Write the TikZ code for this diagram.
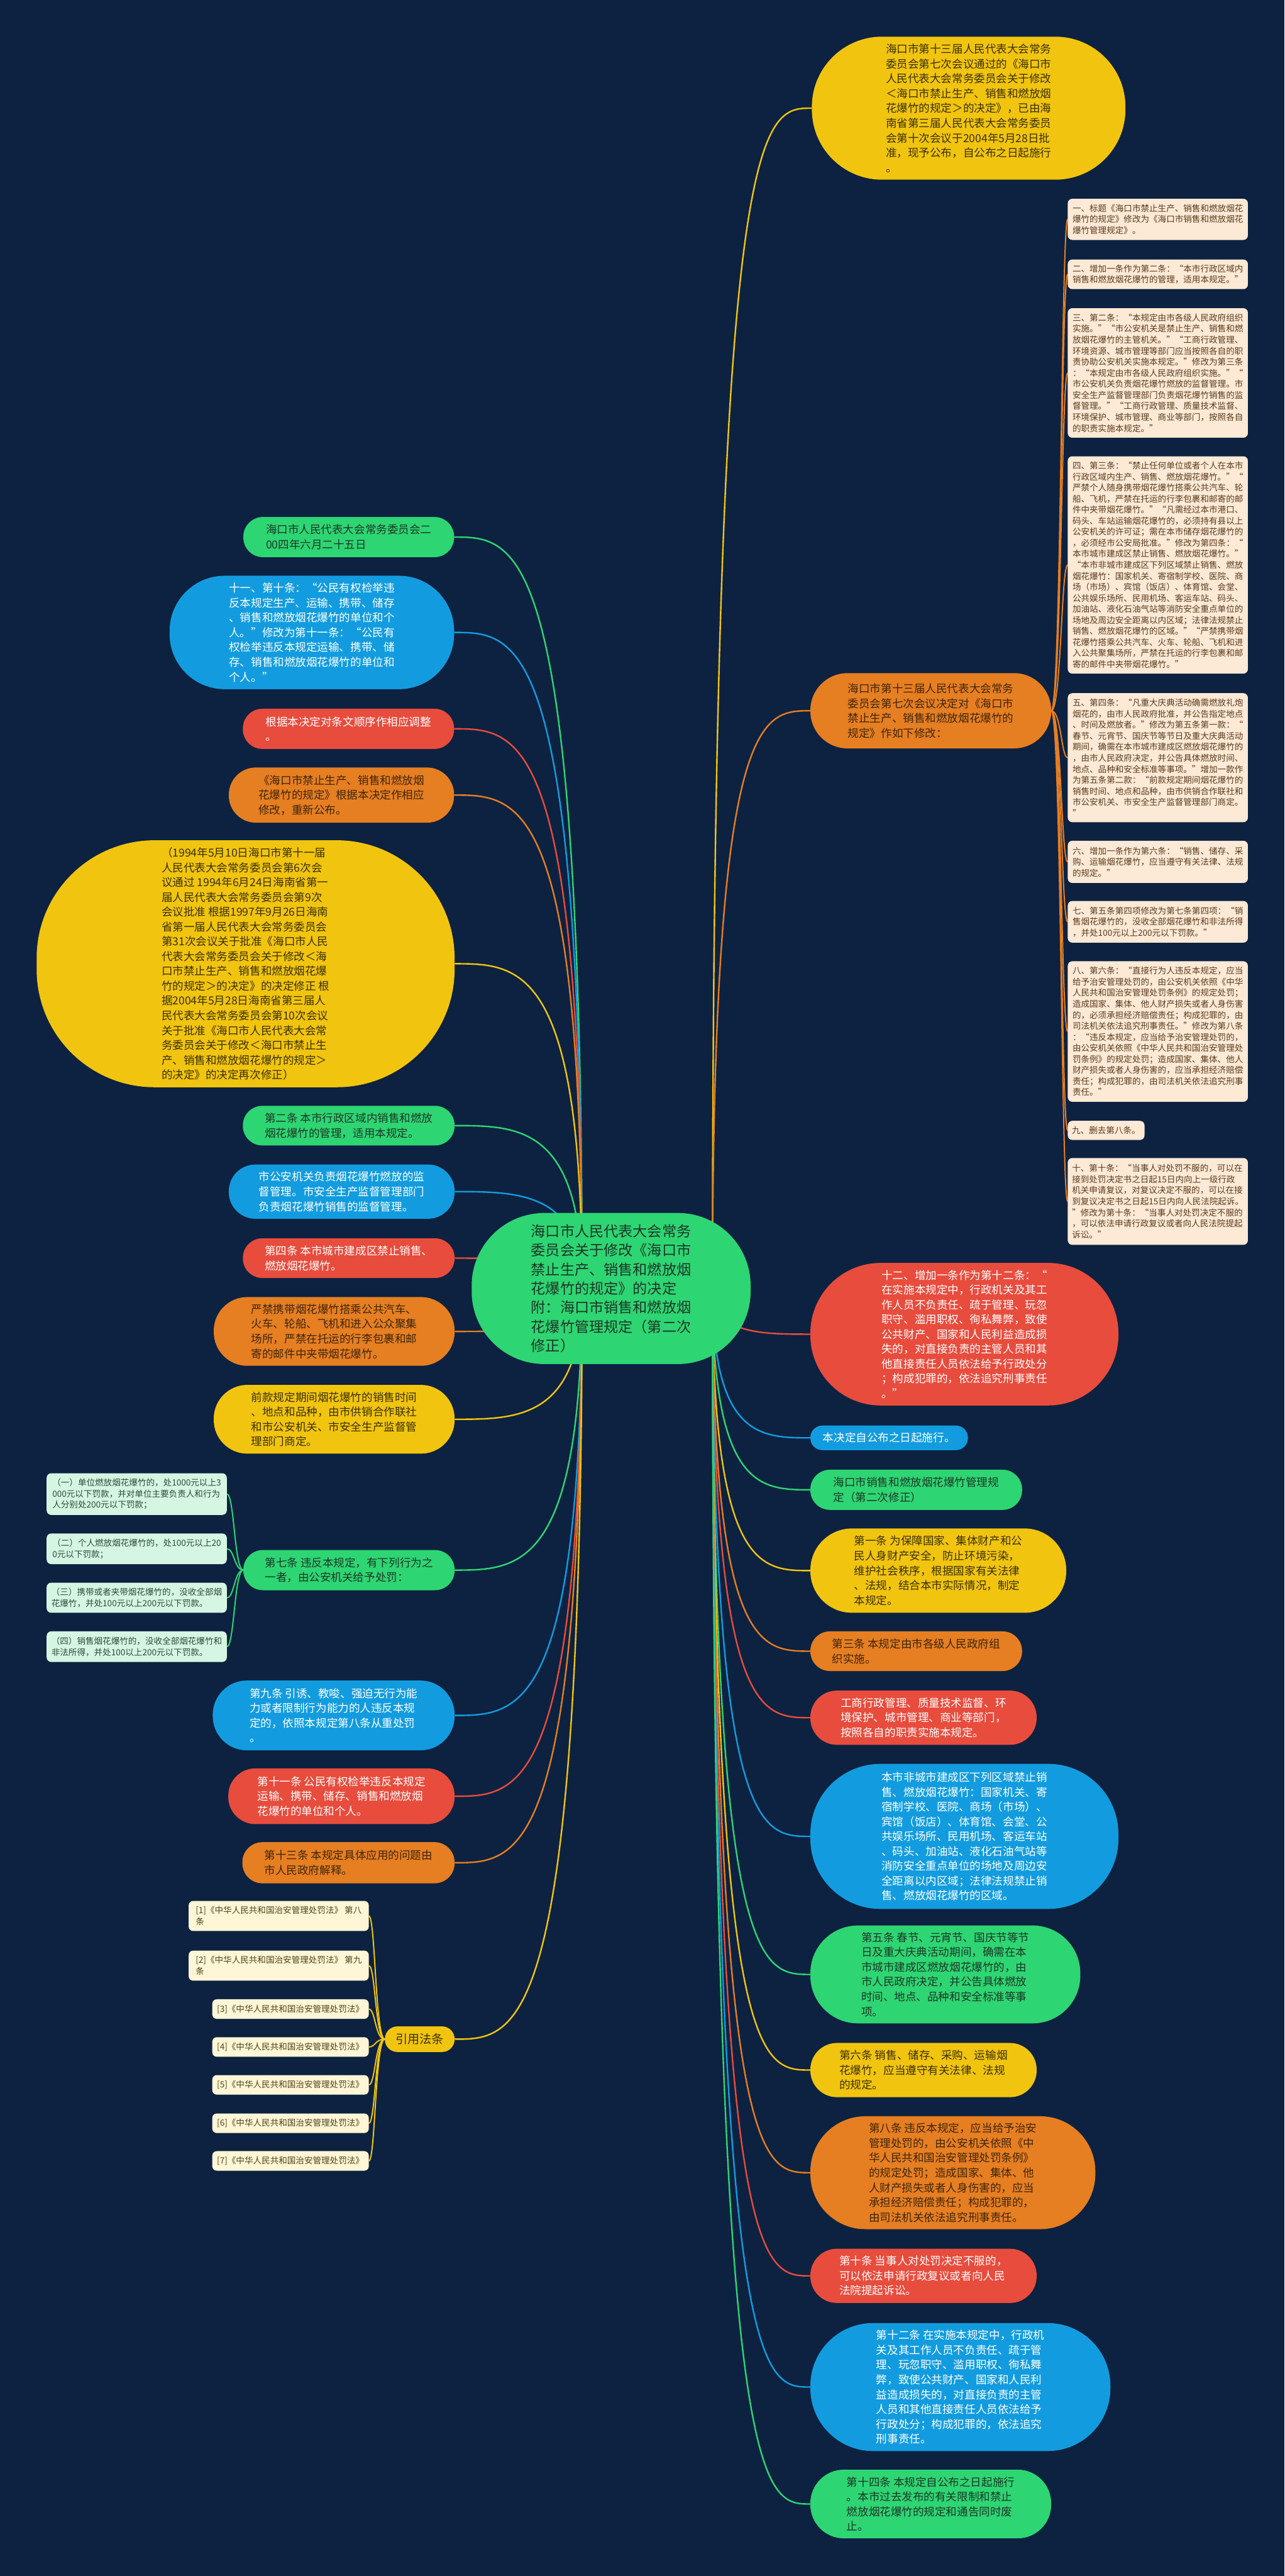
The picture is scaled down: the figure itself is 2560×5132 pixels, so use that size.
\documentclass[tikz,border=0pt]{standalone}
\usepackage{fontspec}
\setmainfont{Noto Sans CJK SC}
\usetikzlibrary{backgrounds}
\definecolor{bgc}{HTML}{0D2240}
\definecolor{cG}{HTML}{2ED573}
\definecolor{cB}{HTML}{129CDF}
\definecolor{cR}{HTML}{E84C3D}
\definecolor{cO}{HTML}{E67E22}
\definecolor{cY}{HTML}{F1C40F}
\definecolor{cCream}{HTML}{FCE9D6}
\definecolor{cLG}{HTML}{D6F6E4}
\definecolor{cLY}{HTML}{FEF6D6}
\definecolor{tG}{HTML}{1C3626}
\definecolor{tO}{HTML}{3E2608}
\definecolor{tY}{HTML}{3A3000}
\definecolor{tBr}{HTML}{5A3B1C}
\definecolor{tLG}{HTML}{2C4A38}
\definecolor{tLY}{HTML}{4F4218}
\tikzset{
  nd/.style={inner sep=0pt, align=left, font=\fontsize{22}{29.5}\selectfont},
  gN/.style={nd, fill=cG, text=tG},
  bN/.style={nd, fill=cB, text=white},
  rN/.style={nd, fill=cR, text=white},
  oN/.style={nd, fill=cO, text=tO},
  yN/.style={nd, fill=cY, text=tY},
  sm/.style={inner sep=0pt, align=left, rounded corners=9pt, font=\fontsize{17}{22}\selectfont},
  crN/.style={sm, fill=cCream, text=tBr},
  lgN/.style={sm, fill=cLG, text=tLG},
  lyN/.style={sm, fill=cLY, text=tLY},
  lG/.style={draw=cG, line width=3pt},
  lB/.style={draw=cB, line width=3pt},
  lR/.style={draw=cR, line width=3pt},
  lO/.style={draw=cO, line width=3pt},
  lY/.style={draw=cY, line width=3pt},
  sO/.style={draw=cO, line width=2.5pt},
  sG/.style={draw=cG, line width=2.5pt},
  sY/.style={draw=cY, line width=2.5pt}
}
\begin{document}
\begin{tikzpicture}[x=1pt,y=-1pt]
\useasboundingbox (0,0) rectangle (2560,5132);
% centre
\node[gN, font=\fontsize{29}{38}\selectfont, minimum width=556pt, minimum height=301pt, rounded corners=145pt] (C) at (1218,2567) {海口市人民代表大会常务\\委员会关于修改《海口市\\禁止生产、销售和燃放烟\\花爆竹的规定》的决定\\附：海口市销售和燃放烟\\花爆竹管理规定（第二次\\修正）};
\coordinate (CR) at (1420,2567);
\coordinate (CL) at (1160,2567);
% right side
\node[yN, minimum width=625pt, minimum height=285pt, rounded corners=140pt] (R1) at (1930.5,215.5) {海口市第十三届人民代表大会常务\\委员会第七次会议通过的《海口市\\人民代表大会常务委员会关于修改\\＜海口市禁止生产、销售和燃放烟\\花爆竹的规定＞的决定》，已由海\\南省第三届人民代表大会常务委员\\会第十次会议于2004年5月28日批\\准，现予公布，自公布之日起施行\\。};
\node[oN, minimum width=480pt, minimum height=150pt, rounded corners=74pt] (R2) at (1855,1416) {海口市第十三届人民代表大会常务\\委员会第七次会议决定对《海口市\\禁止生产、销售和燃放烟花爆竹的\\规定》作如下修改：};
\node[rN, minimum width=614pt, minimum height=284pt, rounded corners=140pt] (R3) at (1922,2658) {十二、增加一条作为第十二条：“\\在实施本规定中，行政机关及其工\\作人员不负责任、疏于管理、玩忽\\职守、滥用职权、徇私舞弊，致使\\公共财产、国家和人民利益造成损\\失的，对直接负责的主管人员和其\\他直接责任人员依法给予行政处分\\；构成犯罪的，依法追究刑事责任\\。”};
\node[bN, minimum width=314pt, minimum height=49pt, rounded corners=24pt] (R4) at (1772,2864.5) {本决定自公布之日起施行。};
\node[gN, minimum width=422pt, minimum height=80pt, rounded corners=39pt] (R5) at (1826,2968) {海口市销售和燃放烟花爆竹管理规\\定（第二次修正）};
\node[yN, minimum width=510pt, minimum height=168pt, rounded corners=83pt] (R6) at (1870,3129) {第一条 为保障国家、集体财产和公\\民人身财产安全，防止环境污染，\\维护社会秩序，根据国家有关法律\\、法规，结合本市实际情况，制定\\本规定。};
\node[oN, minimum width=422pt, minimum height=79pt, rounded corners=39pt] (R7) at (1826,3289.5) {第三条 本规定由市各级人民政府组\\织实施。};
\node[rN, minimum width=451pt, minimum height=108pt, rounded corners=53pt] (R8) at (1840.5,3422) {工商行政管理、质量技术监督、环\\境保护、城市管理、商业等部门，\\按照各自的职责实施本规定。};
\node[bN, minimum width=614pt, minimum height=289pt, rounded corners=140pt] (R9) at (1922,3658.5) {本市非城市建成区下列区域禁止销\\售、燃放烟花爆竹：国家机关、寄\\宿制学校、医院、商场（市场）、\\宾馆（饭店）、体育馆、会堂、公\\共娱乐场所、民用机场、客运车站\\、码头、加油站、液化石油气站等\\消防安全重点单位的场地及周边安\\全距离以内区域；法律法规禁止销\\售、燃放烟花爆竹的区域。};
\node[gN, minimum width=538pt, minimum height=195pt, rounded corners=95pt] (R10) at (1884,3933.5) {第五条 春节、元宵节、国庆节等节\\日及重大庆典活动期间，确需在本\\市城市建成区燃放烟花爆竹的，由\\市人民政府决定，并公告具体燃放\\时间、地点、品种和安全标准等事\\项。};
\node[yN, minimum width=451pt, minimum height=108pt, rounded corners=53pt] (R11) at (1840.5,4124) {第六条 销售、储存、采购、运输烟\\花爆竹，应当遵守有关法律、法规\\的规定。};
\node[oN, minimum width=568pt, minimum height=225pt, rounded corners=110pt] (R12) at (1899,4328.5) {第八条 违反本规定，应当给予治安\\管理处罚的，由公安机关依照《中\\华人民共和国治安管理处罚条例》\\的规定处罚；造成国家、集体、他\\人财产损失或者人身伤害的，应当\\承担经济赔偿责任；构成犯罪的，\\由司法机关依法追究刑事责任。};
\node[rN, minimum width=451pt, minimum height=108pt, rounded corners=53pt] (R13) at (1840.5,4534) {第十条 当事人对处罚决定不服的，\\可以依法申请行政复议或者向人民\\法院提起诉讼。};
\node[bN, minimum width=598pt, minimum height=255pt, rounded corners=125pt] (R14) at (1914,4755.5) {第十二条 在实施本规定中，行政机\\关及其工作人员不负责任、疏于管\\理、玩忽职守、滥用职权、徇私舞\\弊，致使公共财产、国家和人民利\\益造成损失的，对直接负责的主管\\人员和其他直接责任人员依法给予\\行政处分；构成犯罪的，依法追究\\刑事责任。};
\node[gN, minimum width=480pt, minimum height=137pt, rounded corners=67pt] (R15) at (1855,4988.5) {第十四条 本规定自公布之日起施行\\。本市过去发布的有关限制和禁止\\燃放烟花爆竹的规定和通告同时废\\止。};
% cream column
\node[crN, minimum width=359pt, minimum height=82pt] (K1) at (2307.5,437) {一、标题《海口市禁止生产、销售和燃放烟花\\爆竹的规定》修改为《海口市销售和燃放烟花\\爆竹管理规定》。};
\node[crN, minimum width=359pt, minimum height=59pt] (K2) at (2307.5,546.5) {二、增加一条作为第二条：“本市行政区域内\\销售和燃放烟花爆竹的管理，适用本规定。”};
\node[crN, minimum width=359pt, minimum height=258pt] (K3) at (2307.5,743) {三、第二条：“本规定由市各级人民政府组织\\实施。”“市公安机关是禁止生产、销售和燃\\放烟花爆竹的主管机关。”“工商行政管理、\\环境资源、城市管理等部门应当按照各自的职\\责协助公安机关实施本规定。”修改为第三条\\：“本规定由市各级人民政府组织实施。”“\\市公安机关负责烟花爆竹燃放的监督管理。市\\安全生产监督管理部门负责烟花爆竹销售的监\\督管理。”“工商行政管理、质量技术监督、\\环境保护、城市管理、商业等部门，按照各自\\的职责实施本规定。”};
\node[crN, minimum width=359pt, minimum height=433pt] (K4) at (2307.5,1125.5) {四、第三条：“禁止任何单位或者个人在本市\\行政区域内生产、销售、燃放烟花爆竹。”“\\严禁个人随身携带烟花爆竹搭乘公共汽车、轮\\船、飞机，严禁在托运的行李包裹和邮寄的邮\\件中夹带烟花爆竹。”“凡需经过本市港口、\\码头、车站运输烟花爆竹的，必须持有县以上\\公安机关的许可证；需在本市储存烟花爆竹的\\，必须经市公安局批准。”修改为第四条：“\\本市城市建成区禁止销售、燃放烟花爆竹。”\\“本市非城市建成区下列区域禁止销售、燃放\\烟花爆竹：国家机关、寄宿制学校、医院、商\\场（市场）、宾馆（饭店）、体育馆、会堂、\\公共娱乐场所、民用机场、客运车站、码头、\\加油站、液化石油气站等消防安全重点单位的\\场地及周边安全距离以内区域；法律法规禁止\\销售、燃放烟花爆竹的区域。”“严禁携带烟\\花爆竹搭乘公共汽车、火车、轮船、飞机和进\\入公共聚集场所，严禁在托运的行李包裹和邮\\寄的邮件中夹带烟花爆竹。”};
\node[crN, minimum width=359pt, minimum height=257pt] (K5) at (2307.5,1509.5) {五、第四条：“凡重大庆典活动确需燃放礼炮\\烟花的，由市人民政府批准，并公告指定地点\\、时间及燃放者。”修改为第五条第一款：“\\春节、元宵节、国庆节等节日及重大庆典活动\\期间，确需在本市城市建成区燃放烟花爆竹的\\，由市人民政府决定，并公告具体燃放时间、\\地点、品种和安全标准等事项。”增加一款作\\为第五条第二款：“前款规定期间烟花爆竹的\\销售时间、地点和品种，由市供销合作联社和\\市公安机关、市安全生产监督管理部门商定。\\”};
\node[crN, minimum width=359pt, minimum height=84pt] (K6) at (2307.5,1717) {六、增加一条作为第六条：“销售、储存、采\\购、运输烟花爆竹，应当遵守有关法律、法规\\的规定。”};
\node[crN, minimum width=359pt, minimum height=83pt] (K7) at (2307.5,1836.5) {七、第五条第四项修改为第七条第四项：“销\\售烟花爆竹的，没收全部烟花爆竹和非法所得\\，并处100元以上200元以下罚款。”};
\node[crN, minimum width=359pt, minimum height=280pt] (K8) at (2307.5,2055) {八、第六条：“直接行为人违反本规定，应当\\给予治安管理处罚的，由公安机关依照《中华\\人民共和国治安管理处罚条例》的规定处罚；\\造成国家、集体、他人财产损失或者人身伤害\\的，必须承担经济赔偿责任；构成犯罪的，由\\司法机关依法追究刑事责任。”修改为第八条\\：“违反本规定，应当给予治安管理处罚的，\\由公安机关依照《中华人民共和国治安管理处\\罚条例》的规定处罚；造成国家、集体、他人\\财产损失或者人身伤害的，应当承担经济赔偿\\责任；构成犯罪的，由司法机关依法追究刑事\\责任。”};
\node[crN, minimum width=153pt, minimum height=38pt] (K9) at (2204.5,2252) {九、删去第八条。};
\node[crN, minimum width=359pt, minimum height=173pt] (K10) at (2307.5,2393.5) {十、第十条：“当事人对处罚不服的，可以在\\接到处罚决定书之日起15日内向上一级行政\\机关申请复议，对复议决定不服的，可以在接\\到复议决定书之日起15日内向人民法院起诉。\\”修改为第十条：“当事人对处罚决定不服的\\，可以依法申请行政复议或者向人民法院提起\\诉讼。”};
% left side
\node[gN, minimum width=420pt, minimum height=80pt, rounded corners=39pt] (L1) at (695,1070) {海口市人民代表大会常务委员会二\\00四年六月二十五日};
\node[bN, minimum width=567pt, minimum height=226pt, rounded corners=110pt] (L2) at (621.5,1260) {十一、第十条：“公民有权检举违\\反本规定生产、运输、携带、储存\\、销售和燃放烟花爆竹的单位和个\\人。”修改为第十一条：“公民有\\权检举违反本规定运输、携带、储\\存、销售和燃放烟花爆竹的单位和\\个人。”};
\node[rN, minimum width=421pt, minimum height=80pt, rounded corners=39pt] (L3) at (694.5,1452) {根据本决定对条文顺序作相应调整\\。};
\node[oN, minimum width=449pt, minimum height=110pt, rounded corners=54pt] (L4) at (680.5,1584) {《海口市禁止生产、销售和燃放烟\\花爆竹的规定》根据本决定作相应\\修改，重新公布。};
\node[yN, minimum width=833pt, minimum height=492pt, rounded corners=235pt] (L5) at (489.5,1920) {（1994年5月10日海口市第十一届\\人民代表大会常务委员会第6次会\\议通过 1994年6月24日海南省第一\\届人民代表大会常务委员会第9次\\会议批准 根据1997年9月26日海南\\省第一届人民代表大会常务委员会\\第31次会议关于批准《海口市人民\\代表大会常务委员会关于修改＜海\\口市禁止生产、销售和燃放烟花爆\\竹的规定＞的决定》的决定修正 根\\据2004年5月28日海南省第三届人\\民代表大会常务委员会第10次会议\\关于批准《海口市人民代表大会常\\务委员会关于修改＜海口市禁止生\\产、销售和燃放烟花爆竹的规定＞\\的决定》的决定再次修正）};
\node[gN, minimum width=422pt, minimum height=79pt, rounded corners=39pt] (L6) at (695,2242.5) {第二条 本市行政区域内销售和燃放\\烟花爆竹的管理，适用本规定。};
\node[bN, minimum width=450pt, minimum height=108pt, rounded corners=53pt] (L7) at (681,2374) {市公安机关负责烟花爆竹燃放的监\\督管理。市安全生产监督管理部门\\负责烟花爆竹销售的监督管理。};
\node[rN, minimum width=422pt, minimum height=79pt, rounded corners=39pt] (L8) at (695,2506.5) {第四条 本市城市建成区禁止销售、\\燃放烟花爆竹。};
\node[oN, minimum width=480pt, minimum height=137pt, rounded corners=67pt] (L9) at (666,2652.5) {严禁携带烟花爆竹搭乘公共汽车、\\火车、轮船、飞机和进入公众聚集\\场所，严禁在托运的行李包裹和邮\\寄的邮件中夹带烟花爆竹。};
\node[yN, minimum width=480pt, minimum height=137pt, rounded corners=67pt] (L10) at (666,2827.5) {前款规定期间烟花爆竹的销售时间\\、地点和品种，由市供销合作联社\\和市公安机关、市安全生产监督管\\理部门商定。};
\node[gN, minimum width=421pt, minimum height=80pt, rounded corners=39pt] (L11) at (695.5,3128) {第七条 违反本规定，有下列行为之\\一者，由公安机关给予处罚：};
\node[bN, minimum width=482pt, minimum height=139pt, rounded corners=68pt] (L12) at (665,3417.5) {第九条 引诱、教唆、强迫无行为能\\力或者限制行为能力的人违反本规\\定的，依照本规定第八条从重处罚\\。};
\node[rN, minimum width=451pt, minimum height=111pt, rounded corners=54pt] (L13) at (680.5,3578.5) {第十一条 公民有权检举违反本规定\\运输、携带、储存、销售和燃放烟\\花爆竹的单位和个人。};
\node[oN, minimum width=423pt, minimum height=82pt, rounded corners=40pt] (L14) at (694.5,3711) {第十三条 本规定具体应用的问题由\\市人民政府解释。};
\node[yN, font=\fontsize{24}{30}\selectfont, minimum width=139pt, minimum height=51pt, rounded corners=25pt] (L15) at (836.5,4062.5) {引用法条};
% light green
\node[lgN, minimum width=359pt, minimum height=83pt] (G1) at (272.5,2976.5) {（一）单位燃放烟花爆竹的，处1000元以上3\\000元以下罚款，并对单位主要负责人和行为\\人分别处200元以下罚款；};
\node[lgN, minimum width=359pt, minimum height=61pt] (G2) at (272.5,3085.5) {（二）个人燃放烟花爆竹的，处100元以上20\\0元以下罚款；};
\node[lgN, minimum width=359pt, minimum height=60pt] (G3) at (272.5,3183) {（三）携带或者夹带烟花爆竹的，没收全部烟\\花爆竹，并处100元以上200元以下罚款。};
\node[lgN, minimum width=359pt, minimum height=61pt] (G4) at (272.5,3280.5) {（四）销售烟花爆竹的，没收全部烟花爆竹和\\非法所得，并处100以上200元以下罚款。};
% light yellow
\node[lyN, minimum width=359pt, minimum height=60pt] (Y1) at (555.5,3817) {[1]《中华人民共和国治安管理处罚法》 第八\\条};
\node[lyN, minimum width=359pt, minimum height=60pt] (Y2) at (555.5,3916) {[2]《中华人民共和国治安管理处罚法》 第九\\条};
\node[lyN, minimum width=312pt, minimum height=39pt] (Y3) at (579,4002.5) {[3]《中华人民共和国治安管理处罚法》};
\node[lyN, minimum width=312pt, minimum height=39pt] (Y4) at (579,4078) {[4]《中华人民共和国治安管理处罚法》};
\node[lyN, minimum width=312pt, minimum height=39pt] (Y5) at (579,4153.5) {[5]《中华人民共和国治安管理处罚法》};
\node[lyN, minimum width=312pt, minimum height=39pt] (Y6) at (579,4230) {[6]《中华人民共和国治安管理处罚法》};
\node[lyN, minimum width=312pt, minimum height=39pt] (Y7) at (579,4305) {[7]《中华人民共和国治安管理处罚法》};
\begin{scope}[on background layer]
\fill[bgc] (0,0) rectangle (2560,5132);
% right connectors
\draw[lY] (CR) .. controls (1420,215.5) and (1517,215.5) .. (R1.west);
\draw[lO] (CR) .. controls (1420,1416) and (1517,1416) .. (R2.west);
\draw[lR] (CR) .. controls (1420,2658) and (1517,2658) .. (R3.west);
\draw[lB] (CR) .. controls (1420,2864.5) and (1517,2864.5) .. (R4.west);
\draw[lG] (CR) .. controls (1420,2968) and (1517,2968) .. (R5.west);
\draw[lY] (CR) .. controls (1420,3129) and (1517,3129) .. (R6.west);
\draw[lO] (CR) .. controls (1420,3289.5) and (1517,3289.5) .. (R7.west);
\draw[lR] (CR) .. controls (1420,3422) and (1517,3422) .. (R8.west);
\draw[lB] (CR) .. controls (1420,3658.5) and (1517,3658.5) .. (R9.west);
\draw[lG] (CR) .. controls (1420,3933.5) and (1517,3933.5) .. (R10.west);
\draw[lY] (CR) .. controls (1420,4124) and (1517,4124) .. (R11.west);
\draw[lO] (CR) .. controls (1420,4328.5) and (1517,4328.5) .. (R12.west);
\draw[lR] (CR) .. controls (1420,4534) and (1517,4534) .. (R13.west);
\draw[lB] (CR) .. controls (1420,4755.5) and (1517,4755.5) .. (R14.west);
\draw[lG] (CR) .. controls (1420,4988.5) and (1517,4988.5) .. (R15.west);
% left connectors
\draw[lG] (CL) .. controls (1160,1070) and (1033,1070) .. (L1.east);
\draw[lB] (CL) .. controls (1160,1260) and (1033,1260) .. (L2.east);
\draw[lR] (CL) .. controls (1160,1452) and (1033,1452) .. (L3.east);
\draw[lO] (CL) .. controls (1160,1584) and (1033,1584) .. (L4.east);
\draw[lY] (CL) .. controls (1160,1920) and (1033,1920) .. (L5.east);
\draw[lG] (CL) .. controls (1160,2242.5) and (1033,2242.5) .. (L6.east);
\draw[lB] (CL) .. controls (1160,2374) and (1033,2374) .. (L7.east);
\draw[lR] (CL) .. controls (1160,2506.5) and (1033,2506.5) .. (L8.east);
\draw[lO] (CL) .. controls (1160,2652.5) and (1033,2652.5) .. (L9.east);
\draw[lY] (CL) .. controls (1160,2827.5) and (1033,2827.5) .. (L10.east);
\draw[lG] (CL) .. controls (1160,3128) and (1033,3128) .. (L11.east);
\draw[lB] (CL) .. controls (1160,3417.5) and (1033,3417.5) .. (L12.east);
\draw[lR] (CL) .. controls (1160,3578.5) and (1033,3578.5) .. (L13.east);
\draw[lO] (CL) .. controls (1160,3711) and (1033,3711) .. (L14.east);
\draw[lY] (CL) .. controls (1160,4062.5) and (1033,4062.5) .. (L15.east);
% cream connectors
\draw[sO] (R2.east) .. controls (2115,1416) and (2115,437) .. (K1.west);
\draw[sO] (R2.east) .. controls (2115,1416) and (2115,546.5) .. (K2.west);
\draw[sO] (R2.east) .. controls (2115,1416) and (2115,743) .. (K3.west);
\draw[sO] (R2.east) .. controls (2115,1416) and (2115,1125.5) .. (K4.west);
\draw[sO] (R2.east) .. controls (2115,1416) and (2115,1509.5) .. (K5.west);
\draw[sO] (R2.east) .. controls (2115,1416) and (2115,1717) .. (K6.west);
\draw[sO] (R2.east) .. controls (2115,1416) and (2115,1836.5) .. (K7.west);
\draw[sO] (R2.east) .. controls (2115,1416) and (2115,2055) .. (K8.west);
\draw[sO] (R2.east) .. controls (2115,1416) and (2115,2252) .. (K9.west);
\draw[sO] (R2.east) .. controls (2115,1416) and (2115,2393.5) .. (K10.west);
% light green connectors
\draw[sG] (L11.west) .. controls (467,3128) and (467,2976.5) .. (G1.east);
\draw[sG] (L11.west) .. controls (467,3128) and (467,3085.5) .. (G2.east);
\draw[sG] (L11.west) .. controls (467,3128) and (467,3183) .. (G3.east);
\draw[sG] (L11.west) .. controls (467,3128) and (467,3280.5) .. (G4.east);
% light yellow connectors
\draw[sY] (L15.west) .. controls (748,4062.5) and (748,3817) .. (Y1.east);
\draw[sY] (L15.west) .. controls (748,4062.5) and (748,3916) .. (Y2.east);
\draw[sY] (L15.west) .. controls (748,4062.5) and (748,4002.5) .. (Y3.east);
\draw[sY] (L15.west) .. controls (748,4062.5) and (748,4078) .. (Y4.east);
\draw[sY] (L15.west) .. controls (748,4062.5) and (748,4153.5) .. (Y5.east);
\draw[sY] (L15.west) .. controls (748,4062.5) and (748,4230) .. (Y6.east);
\draw[sY] (L15.west) .. controls (748,4062.5) and (748,4305) .. (Y7.east);
\end{scope}
\end{tikzpicture}
\end{document}
